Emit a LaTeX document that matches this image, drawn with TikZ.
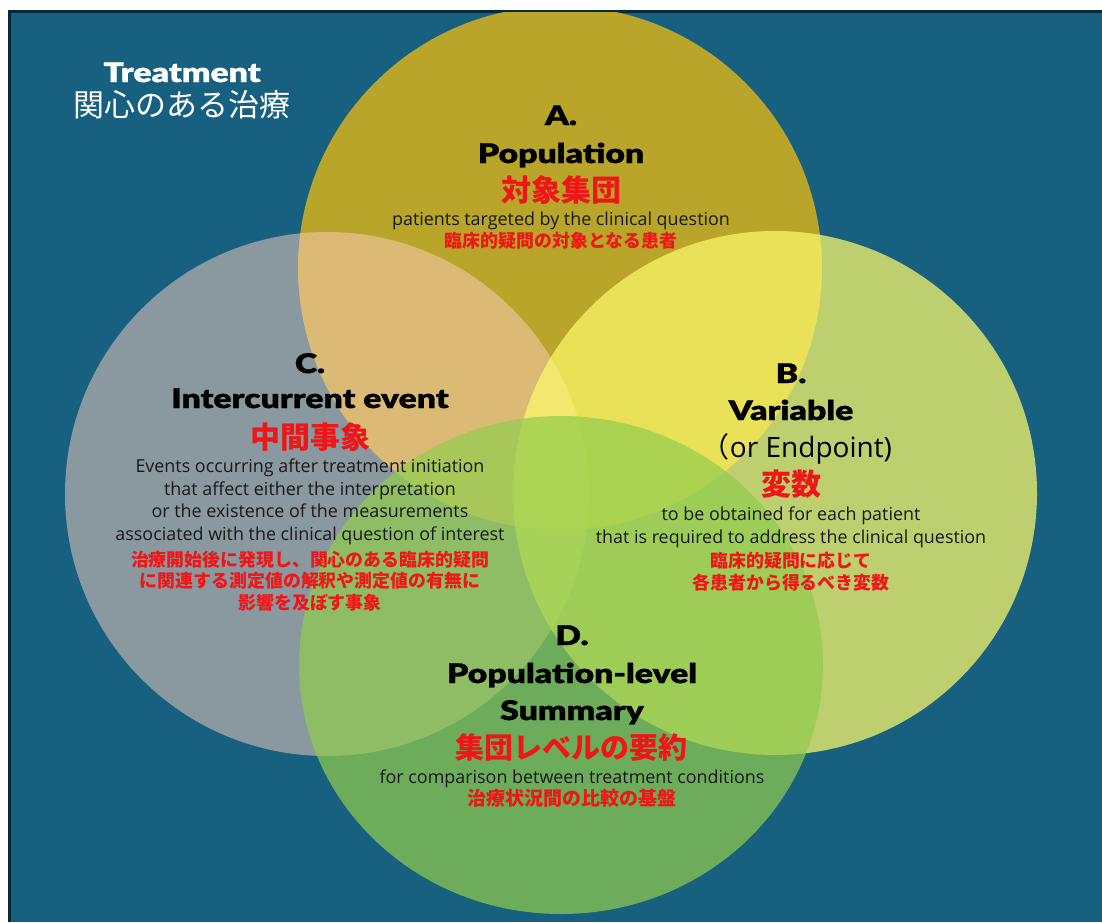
\documentclass[tikz,border=0pt]{standalone}
\usepackage{fontspec}
\setmainfont{Open Sans}
\newfontfamily\heavy{Lato Black}[FakeStretch=1.25, FakeBold=1]
\newfontfamily\cjk{Noto Sans CJK JP}
\definecolor{bgblue}{RGB}{23,96,127}
\definecolor{framedark}{RGB}{10,40,60}
\definecolor{popA}{RGB}{185,165,42}
\definecolor{varB}{RGB}{252,249,107}
\definecolor{iceC}{RGB}{253,208,193}
\definecolor{sumD}{RGB}{145,205,77}
\definecolor{jred}{RGB}{238,22,22}
\definecolor{textgray}{RGB}{25,25,25}
\begin{document}
\begin{tikzpicture}[x=1pt,y=-1pt,
  every node/.style={inner sep=0pt},
  letter/.style={font=\heavy\fontsize{27}{30}\selectfont, text=black, anchor=base},
  jtitle/.style={font=\cjk\bfseries\fontsize{30}{34}\selectfont, text=jred},
  body/.style={font=\fontsize{17.9}{21}\selectfont, text=textgray, anchor=base},
  jbody/.style={font=\cjk\bfseries\fontsize{17.9}{21}\selectfont, text=jred},
]
\useasboundingbox (0,0) rectangle (1102,922);
\fill[white] (0,0) rectangle (1102,922);
\fill[bgblue] (8,10) rectangle (1102,922);
\draw[framedark, line width=2.5pt] (9.25,922) -- (9.25,11.25) -- (1102,11.25);

% the four overlapping sets
\begin{scope}
  \clip (10.5,12.5) rectangle (1102,922);
  \fill[popA] (560,268) circle[radius=262];
  \fill[iceC, fill opacity=0.5] (327,494) circle[radius=262];
  \fill[varB, fill opacity=0.73] (775,493) circle[radius=262];
  \fill[sumD, fill opacity=0.7] (561,665) ellipse[x radius=262, y radius=249];
\end{scope}

% treatment label
\node[letter, text=white] (treat) at (182,82) {Treatment};
\node[font=\cjk\fontsize{31}{34}\selectfont, text=white] (treatJ) at (182,105) {関心のある治療};

% A. Population
\node[letter] (aKey) at (561,125) {A.};
\node[letter] (aName) at (561,163) {Population};
\node[jtitle] (aJ) at (561,190) {対象集団};
\node[body] (aDesc) at (561,225) {patients targeted by the clinical question};
\node[jbody] (aDescJ) at (561,241) {臨床的疑問の対象となる患者};

% C. Intercurrent event
\node[letter] (cKey) at (310,373) {C.};
\node[letter] (cName) at (310,408) {Intercurrent event};
\node[jtitle] (cJ) at (310,437) {中間事象};
\node[body] (cDesc1) at (310,472) {Events occurring after treatment initiation};
\node[body] (cDesc2) at (310,495) {that affect either the interpretation};
\node[body] (cDesc3) at (310,517) {or the existence of the measurements};
\node[body] (cDesc4) at (310,540) {associated with the clinical question of interest};
\node[jbody] (cDescJ1) at (310,559.5) {治療開始後に発現し、関心のある臨床的疑問};
\node[jbody] (cDescJ2) at (310,581) {に関連する測定値の解釈や測定値の有無に};
\node[jbody] (cDescJ3) at (310,603) {影響を及ぼす事象};

% B. Variable
\node[letter] (bKey) at (791,383) {B.};
\node[letter] (bName) at (791,420) {Variable};
\node[body, font=\fontsize{28}{31}\selectfont, text=black] (bAlt) at (797,457) {{\cjk （}or Endpoint)};
\node[jtitle] (bJ) at (791,484.5) {変数};
\node[body] (bDesc1) at (791,520) {to be obtained for each patient};
\node[body] (bDesc2) at (791,543) {that is required to address the clinical question};
\node[jbody] (bDescJ1) at (791,560.5) {臨床的疑問に応じて};
\node[jbody] (bDescJ2) at (791,582.5) {各患者から得るべき変数};

% D. Population-level Summary
\node[letter] (dKey) at (572,645) {D.};
\node[letter] (dName1) at (572,683) {Population-level};
\node[letter] (dName2) at (572,720) {Summary};
\node[jtitle, font=\cjk\bfseries\fontsize{29}{33}\selectfont] (dJ) at (571,747.5) {集団レベルの要約};
\node[body] (dDesc) at (572,783) {for comparison between treatment conditions};
\node[jbody, font=\cjk\bfseries\fontsize{19}{22}\selectfont] (dDescJ) at (572,798.5) {治療状況間の比較の基盤};
\end{tikzpicture}
\end{document}
